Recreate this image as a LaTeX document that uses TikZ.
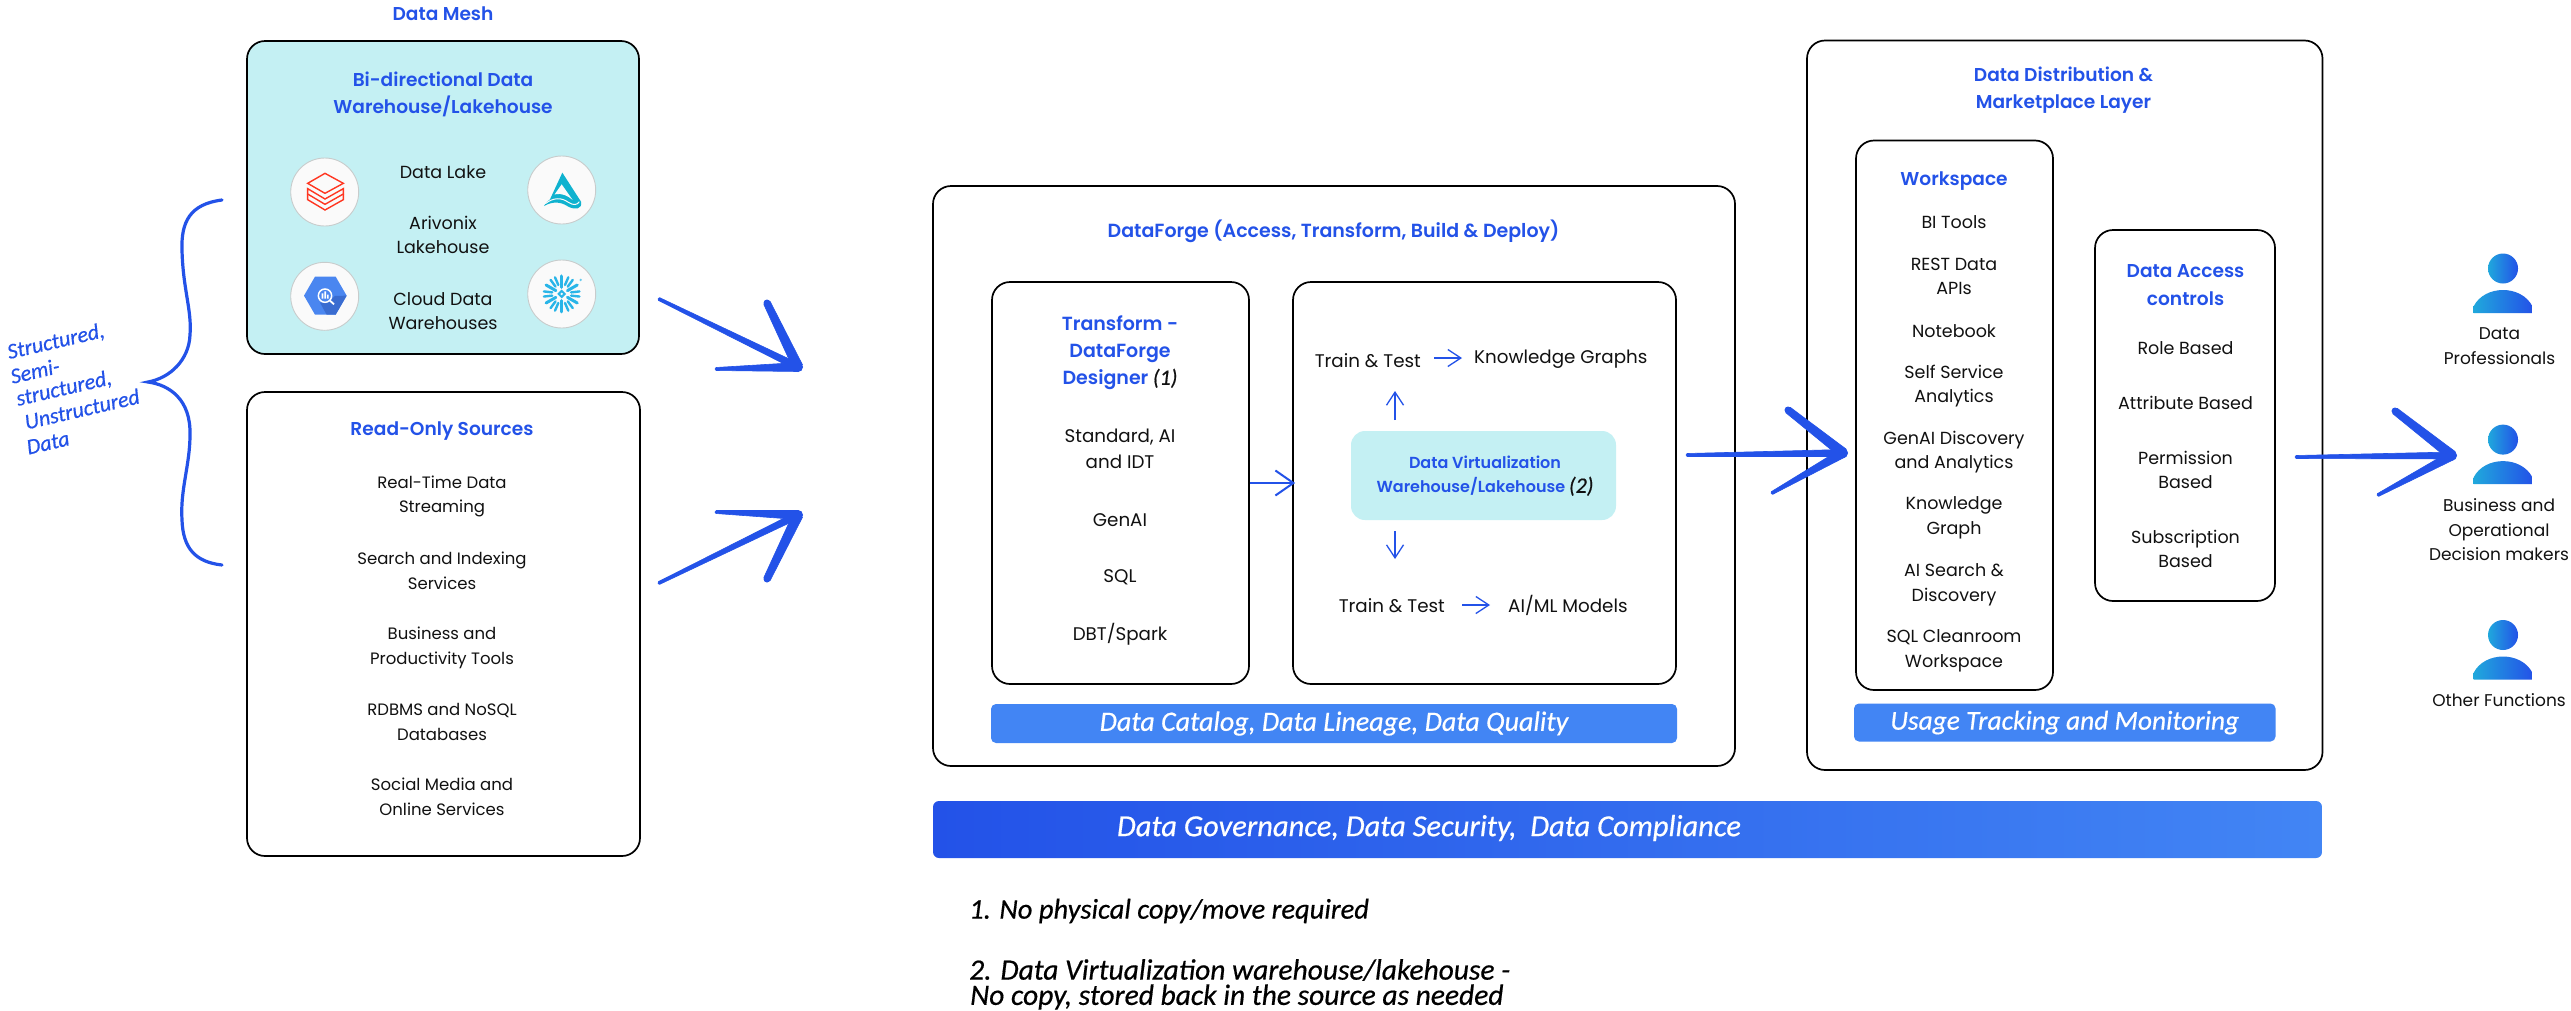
\documentclass[tikz,border=0pt]{standalone}
\usepackage{fontspec}
\usetikzlibrary{calc,arrows.meta}
\setmainfont{Poppins}
\newfontfamily\headf{Poppins}[UprightFont=* SemiBold]
\newfontfamily\handf{Carlito}[UprightFont=* Italic,FakeBold=0.5]
\definecolor{hblue}{HTML}{2352E8}
\definecolor{bbar}{HTML}{4285F4}
\definecolor{aqua}{HTML}{C4F0F3}
\definecolor{ink}{HTML}{111111}
\definecolor{ice}{HTML}{FAFAFA}
\definecolor{ringc}{HTML}{C8CCCC}
\definecolor{cyanp}{HTML}{20A8DC}
\definecolor{dbred}{HTML}{FF3621}
\definecolor{bq}{HTML}{4A86F0}
\definecolor{bqd}{HTML}{3A6CD0}
\definecolor{ari}{HTML}{0FB2CF}
\definecolor{snow}{HTML}{29B5E8}
\newcommand\taper[4]{%
  \filldraw[hblue,line width=.6pt,line join=round]
    ($(#1)!#3pt!90:(#2)$) -- ($(#1)!#3pt!-90:(#2)$) -- ($(#2)!#4pt!90:(#1)$) -- ($(#2)!#4pt!-90:(#1)$) -- cycle;
  \fill[hblue] (#1) circle[radius=#3pt];
  \fill[hblue] (#2) circle[radius=#4pt];}
\newcommand\personicon[1]{%
  \begin{scope}[shift={(2503,#1)}]
    \shade[left color=cyanp,right color=hblue] (0,0) circle[radius=15];
    \shade[left color=cyanp,right color=hblue] (-29.5,44.5) -- (-29.5,38) .. controls (-24,27) and (-12,21.5) .. (0,21.5) .. controls (12,21.5) and (24,27) .. (29.5,38) -- (29.5,44.5) -- cycle;
  \end{scope}}
\newcommand\handnote{\handf\fontsize{22}{24}\selectfont\color{ink}}
\tikzset{
  panel/.style={draw=black,line width=1.7pt,rounded corners=18pt,inner sep=0},
  body/.style={text=ink,align=center,inner sep=0,font=\fontsize{16.5}{24.5}\selectfont},
  bodym/.style={body,font=\fontsize{17.5}{24.5}\selectfont},
  bodyu/.style={body,font=\fontsize{17}{24.5}\selectfont},
  bodyl/.style={body,font=\fontsize{18.3}{26}\selectfont},
  title/.style={text=hblue,align=center,inner sep=0,font=\headf\fontsize{18.6}{27}\selectfont},
  hand/.style={inner sep=0,font=\handf\fontsize{28.5}{27}\selectfont},
  slant/.style={hand,text=hblue,rotate=13,font=\handf\fontsize{22}{24}\selectfont},
  barb/.style={-{Straight Barb[length=13pt,width=17pt]},draw=hblue,line width=1.3pt},
  logoring/.style={circle,fill=ice,draw=ringc,line width=.9pt,minimum size=68pt,inner sep=0},
}
\begin{document}
\begin{tikzpicture}[x=1pt,y=-1pt]
\useasboundingbox (0,0) rectangle (2571,1010);
\fill[white] (0,0) rectangle (2571,1010);
% panels
\node[panel,fill=aqua,minimum width=392pt,minimum height=313pt] (bidir) at (443,197.5) {};
\node[panel,minimum width=393pt,minimum height=464pt] (ro) at (443.5,624) {};
\node[panel,minimum width=802pt,minimum height=580pt] (df) at (1334,476) {};
\node[panel,minimum width=257pt,minimum height=402pt] (tfm) at (1120.5,483) {};
\node[panel,minimum width=383pt,minimum height=402pt] (rbox) at (1484.5,483) {};
\node[fill=aqua,rounded corners=14pt,inner sep=0,minimum width=265pt,minimum height=89pt] (virt) at (1483.5,475.5) {};
\node[fill=bbar,rounded corners=5pt,inner sep=0,minimum width=686pt,minimum height=39pt,text=white,font=\handf\fontsize{28}{27}\selectfont] (cat) at (1334,723.5) {Data Catalog, Data Lineage, Data Quality};
\node[panel,minimum width=515.5pt,minimum height=729.5pt] (dist) at (2064.75,405.25) {};
\node[panel,minimum width=197pt,minimum height=549.5pt] (ws) at (1954.5,415.25) {};
\node[panel,minimum width=180pt,minimum height=371pt] (acc) at (2185,415.5) {};
\node[fill=bbar,rounded corners=5pt,inner sep=0,minimum width=421.5pt,minimum height=38pt,text=white,font=\handf\fontsize{27.4}{27}\selectfont] (usage) at (2064.75,722.5) {Usage Tracking and Monitoring};
\shade[left color=hblue,right color=bbar,rounded corners=6pt] (933,801) rectangle (2322,858);
\node[hand,text=white,font=\handf\fontsize{30.5}{30}\selectfont] (gov) at (1429,828) {Data Governance, Data Security,\ \ Data Compliance};
% left block text
\node[title] (mesh) at (443,14) {Data Mesh};
\node[title] (bit) at (443,94.5) {Bi-directional Data\\Warehouse/Lakehouse};
\node[bodym] (lake) at (443,172) {Data Lake};
\node[bodym] (arl) at (443,235) {Arivonix\\Lakehouse};
\node[bodym] (cdw) at (443,311) {Cloud Data\\Warehouses};
\node[title] (rot) at (442,431.5) {Read-Only Sources};
\node[body] (r1) at (442,496.5) {Real-Time Data\\Streaming};
\node[body] (r2) at (442,571) {Search and Indexing\\Services};
\node[body] (r3) at (442,648) {Business and\\Productivity Tools};
\node[body] (r4) at (442,722) {RDBMS and NoSQL\\Databases};
\node[body] (r5) at (442,797) {Social Media and\\Online Services};
% logos
\node[logoring] (lg1) at (324.7,192) {};
\node[logoring] (lg2) at (561.7,190) {};
\node[logoring] (lg3) at (324.7,296.3) {};
\node[logoring] (lg4) at (561.7,294) {};
\begin{scope}[shift={(285,150)},x=.3333pt,y=-.3333pt]
  \draw[dbred,line width=1.4pt,line join=miter] (120,70) -- (175,100) -- (120,130) -- (68,100) -- cycle;
  \draw[dbred,line width=1.4pt] (68,116) -- (120,147) -- (175,116) -- (175,132) -- (120,163) -- (68,132) -- cycle;
  \draw[dbred,line width=1.4pt] (68,132) -- (68,149) -- (120,180) -- (175,149) -- (175,132);
  \fill[bq] (57,437) -- (90,380) -- (152,380) -- (185,437) -- (152,494) -- (90,494) -- cycle;
  \fill[bqd] (135,452) -- (150,438) -- (185,437) -- (152,494) -- (125,494) -- (105,458) -- cycle;
  \draw[white,line width=1.5pt] (120,437) circle[radius=20];
  \draw[white,line width=1.8pt] (135,452) -- (147,463);
  \fill[white] (110,430) rectangle (115,446) (118,424) rectangle (123,446) (126,434) rectangle (131,446);
\end{scope}
\begin{scope}[shift={(520,150)},x=.3333pt,y=-.3333pt]
  \fill[ari] (127,68) -- (183,155) .. controls (188,178) and (165,180) .. (145,170) .. controls (120,153) and (95,155) .. (72,168) .. controls (78,158) and (84,152) .. (90,148) -- cycle;
  \fill[ice] (125,103) -- (104,133) .. controls (125,128) and (145,138) .. (158,150) -- cycle;
  \draw[ice,line width=1pt] (76,161) .. controls (100,142) and (125,142) .. (145,157) .. controls (160,167) and (172,165) .. (178,155);
  \begin{scope}[shift={(125,432)}]
    \foreach \a in {90,30,-30,-90,-150,150}{
      \draw[snow,line width=3pt,line cap=round] (\a:20) -- (\a:54);
      \draw[snow,line width=2.4pt,line cap=round] ($(\a:27)+(\a+90:10)$) -- ($(\a:50)+(\a+90:20)$);
      \draw[snow,line width=2.4pt,line cap=round] ($(\a:27)+(\a-90:10)$) -- ($(\a:50)+(\a-90:20)$);
    }
    \fill[ice] (-14,0) -- (0,-14) -- (14,0) -- (0,14) -- cycle;
    \draw[snow,line width=2pt] (-9,0) -- (0,-9) -- (9,0) -- (0,9) -- cycle;
    \fill[snow!70] (57,-42) circle[radius=4];
  \end{scope}
\end{scope}
% brace
\draw[hblue,line width=3.2pt,line cap=round] (222,200) .. controls (190,204) and (181,222) .. (182,250) .. controls (183,290) and (192,310) .. (190,335) .. controls (189,360) and (170,378) .. (148,382) .. controls (170,385) and (191,400) .. (190,435) .. controls (190,465) and (180,490) .. (182,520) .. controls (183,548) and (195,562) .. (222,565);
\node[slant] (s1) at (56,342) {Structured,};
\node[slant] (s2) at (35,371) {Semi-};
\node[slant] (s3) at (64,389) {structured,};
\node[slant] (s4) at (82,409) {Unstructured};
\node[slant] (s5) at (48,443) {Data};
% DataForge text
\node[title,font=\headf\fontsize{19}{27}\selectfont] (dft) at (1333.5,231) {DataForge (Access, Transform, Build \& Deploy)};
\node[title,font=\headf\fontsize{19}{27}\selectfont] (tt) at (1120,353) {Transform -\\DataForge\\Designer {\handnote(1)}};
\node[bodyl] (t1) at (1120,449) {Standard, AI\\and IDT};
\node[bodyl] (t2) at (1120,520) {GenAI};
\node[bodyl] (t3) at (1120,577) {SQL};
\node[bodyl] (t4) at (1120,634) {DBT/Spark};
\node[bodyl,anchor=east] (tr1) at (1421,361) {Train \& Test};
\node[bodyl,anchor=west] (kg) at (1474,359) {Knowledge Graphs};
\node[bodyl,anchor=east] (tr2) at (1445,606) {Train \& Test};
\node[bodyl,anchor=west] (ml) at (1508,605) {AI/ML Models};
\node[title,font=\headf\fontsize{16}{24}\selectfont] (vt) at (1485,476) {Data Virtualization\\Warehouse/Lakehouse {\handnote(2)}};
\coordinate (upa) at (1395,420);\coordinate (upb) at (1395,391);
\coordinate (dna) at (1395,531);\coordinate (dnb) at (1395,559);
\draw[barb] (upa) -- (upb);
\draw[barb] (dna) -- (dnb);
\draw[barb] (tr1.east) ++(13,-3) coordinate (k1) -- ($(kg.west)+(-12,-1)$);
\draw[barb] (tr2.east) ++(17,-1) coordinate (k2) -- ($(ml.west)+(-18,0)$);
\draw[-{Straight Barb[length=18pt,width=25pt]},draw=hblue,line width=2pt] (tfm.east) -- ($(rbox.west)+(3,0)$);
% notes
\node[hand,anchor=west,text=black] (n1) at (969,911) {1. No physical copy/move required};
\node[hand,anchor=west,text=black,font=\handf\fontsize{29.5}{27}\selectfont] (n2) at (969,970) {2. Data Virtualization warehouse/lakehouse -};
\node[hand,anchor=west,text=black,font=\handf\fontsize{29.5}{27}\selectfont] (n3) at (970,997) {No copy, stored back in the source as needed};
% distribution
\node[title] (dt) at (2063.5,90.5) {Data Distribution \&\\Marketplace Layer};
\node[title] (wt) at (1954,181) {Workspace};
\node[bodym] (w1) at (1954,222) {BI Tools};
\node[bodym] (w2) at (1954,276.5) {REST Data\\APIs};
\node[bodym] (w3) at (1954,331.5) {Notebook};
\node[bodym] (w4) at (1954,386) {Self Service\\Analytics};
\node[bodym] (w5) at (1954,452) {GenAI Discovery\\and Analytics};
\node[bodym] (w6) at (1954,518) {Knowledge\\Graph};
\node[bodym] (w7) at (1954,585) {AI Search \&\\Discovery};
\node[bodym] (w8) at (1954,651) {SQL Cleanroom\\Workspace};
\node[title,font=\headf\fontsize{18.6}{28}\selectfont] (at) at (2185.5,285) {Data Access\\controls};
\node[bodym] (a1) at (2185.5,348) {Role Based};
\node[bodym] (a2) at (2185.5,403) {Attribute Based};
\node[bodym] (a3) at (2185.5,470) {Permission\\Based};
\node[bodym] (a4) at (2185.5,549) {Subscription\\Based};
% users
\personicon{268.5}
\personicon{439.6}
\personicon{635}
\node[bodyu] (u1) at (2499.5,346) {Data\\Professionals};
\node[bodyu] (u2) at (2499,530) {Business and\\Operational\\Decision makers};
\node[bodyu] (u3) at (2499,700.5) {Other Functions};
% big hand arrows
\coordinate (a1s) at (659,299);\coordinate (a1t) at (798,367);\coordinate (a1u) at (767,303);\coordinate (a1l) at (716,369);
\coordinate (a2s) at (659,583);\coordinate (a2t) at (798,515);\coordinate (a2u) at (767,579);\coordinate (a2l) at (716,512);
\coordinate (a3s) at (1687,455);\coordinate (a3t) at (1843,453);\coordinate (a3u) at (1788,410);\coordinate (a3l) at (1772,493);
\coordinate (a4s) at (2296,457);\coordinate (a4t) at (2452,455.5);\coordinate (a4u) at (2395,411);\coordinate (a4l) at (2378,495);
\foreach \k in {a1,a2,a3,a4}{
  \taper{\k s}{\k t}{1.5}{3.5}
  \taper{\k u}{\k t}{3.5}{5}
  \taper{\k l}{\k t}{1.5}{4.5}
}
\end{tikzpicture}
\end{document}
